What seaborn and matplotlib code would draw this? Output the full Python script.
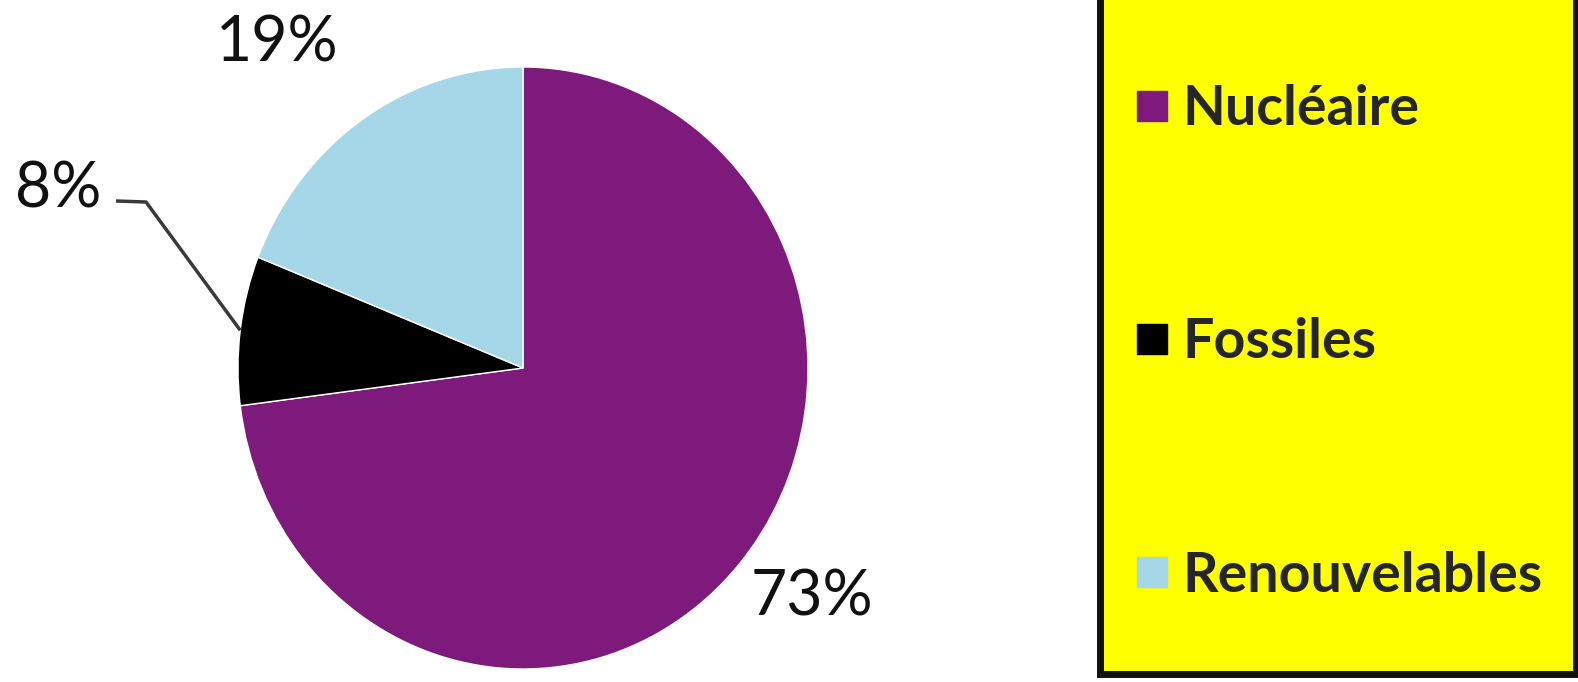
import matplotlib
matplotlib.use("Agg")
import numpy as np
import matplotlib.pyplot as plt
import seaborn as sns
from matplotlib.lines import Line2D
from matplotlib.patches import Rectangle

# Electricity mix
categories = ["Nucléaire", "Fossiles", "Renouvelables"]
shares = [73, 8, 19]
colors = ["#7E1A7C", "#000000", "#A6D7E8"]

sns.set_theme(style="white")
plt.rcParams["font.family"] = ["Lato", "DejaVu Sans"]

W, H = 1578, 682
fig = plt.figure(figsize=(W / 100, H / 100), dpi=100)
fig.patch.set_facecolor("white")

# Pie area in pixels: centre and horizontal / vertical radii
cx, cy, rx, ry = 523, 368, 285, 301
ax = fig.add_axes([(cx - rx) / W, (H - cy - ry) / H, 2 * rx / W, 2 * ry / H])
wedges, _ = ax.pie(
    shares,
    colors=colors,
    startangle=90,
    counterclock=False,
    radius=1,
    wedgeprops=dict(edgecolor="white", linewidth=1),
)
ax.set_aspect("auto")
ax.set_xlim(-1, 1)
ax.set_ylim(-1, 1)
ax.axis("off")


def to_data(x, y):
    return (x - cx) / rx, (cy - y) / ry


label_pos = {
    "Nucléaire": (812, 597),
    "Fossiles": (58, 189),
    "Renouvelables": (277, 43),
}
for cat, val in zip(categories, shares):
    x, y = to_data(*label_pos[cat])
    ax.text(x, y, f"{val}%", fontsize=45, color="#111111",
            ha="center", va="center", clip_on=False)

# Leader line for the small slice, ending on the slice's outer edge
w = wedges[1]
mid = np.deg2rad((w.theta1 + w.theta2) / 2)
end = (np.cos(mid), np.sin(mid))
p0 = to_data(116, 201)
p1 = to_data(146, 202)
ax.plot([p0[0], p1[0], end[0]], [p0[1], p1[1], end[1]],
        color="#3a3a3a", lw=2.5, clip_on=False, solid_capstyle="butt")

# Legend panel
fig.patches.append(Rectangle((1100, 682 - 674), 1576 - 1100, 700,
                             transform=None, facecolor="#FFFF00",
                             edgecolor="#111111", linewidth=5, zorder=0))
handles = [Line2D([], [], marker="s", ls="", markersize=21,
                  markerfacecolor=c, markeredgecolor=c) for c in colors]
fig.legend(handles, categories, loc="upper left",
           bbox_to_anchor=(1130 / W, 1 - 84 / H), frameon=False,
           prop=dict(family=["Lato", "DejaVu Sans"], weight="bold", size=40),
           labelspacing=3.3, handletextpad=0.15, handlelength=0.8,
           borderpad=0, borderaxespad=0)

fig.savefig("out.png", dpi=100, facecolor="white")
